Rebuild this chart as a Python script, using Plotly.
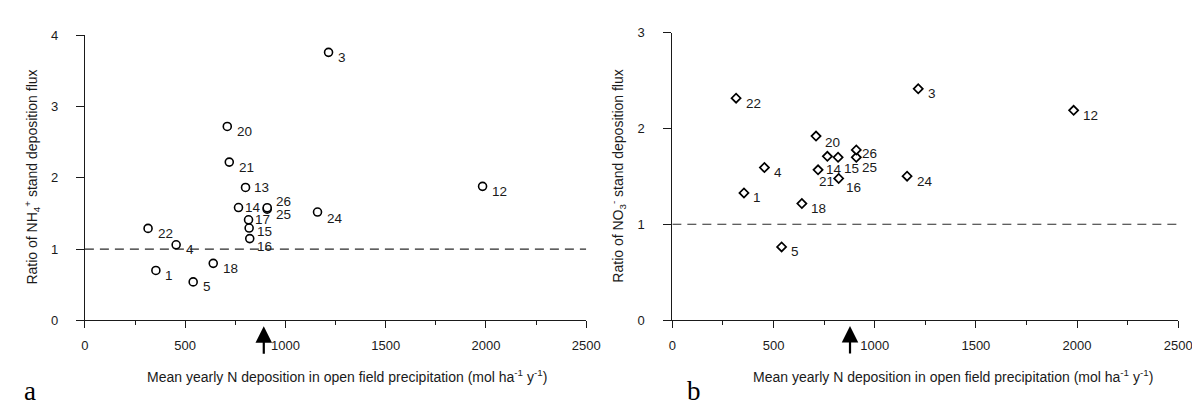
import plotly.graph_objects as go

# ---------------- data ----------------
sites = ["1", "3", "4", "5", "12", "13", "14", "15", "16", "17", "18", "20", "21", "22", "24", "25", "26"]
deposition = [354, 1215, 455, 540, 1983, 801, 766, 819, 822, 816, 640, 710, 720, 315, 1160, 909, 909]
nh4_ratio = [0.70, 3.76, 1.06, 0.54, 1.88, 1.865, 1.583, 1.295, 1.147, 1.411, 0.80, 2.72, 2.22, 1.29, 1.52, 1.56, 1.58]
no3_ratio = [1.327, 2.414, 1.592, 0.764, 2.189, None, 1.709, 1.699, 1.478, None, 1.216, 1.920, 1.568, 2.316, 1.502, 1.699, 1.776]

x_ticks = [0, 500, 1000, 1500, 2000, 2500]
x_minor_ticks = [250, 750, 1250, 1750, 2250]
nh4_ticks = [0, 1, 2, 3, 4]
no3_ticks = [0, 1, 2, 3]
x_range = [0, 2500]
reference_ratio = 1.0
arrow_dep_a = 892
arrow_dep_b = 878

x_title = "Mean yearly N deposition in open field precipitation (mol ha<sup>-1</sup> y<sup>-1</sup>)"
y_title_a = "Ratio of NH<sub>4</sub><sup>+</sup> stand deposition flux"
y_title_b = "Ratio of NO<sub>3</sub><sup>-</sup> stand deposition flux"

# ---------------- layout helpers ----------------
W, H = 1200, 409
INK = "#1a1a1a"
FONT = "Liberation Sans, Arial, sans-serif"

def px_x(p):
    return p / W

def px_y(p):
    return 1 - p / H

# label offsets (pixels): (dx to text left edge, dy downward)
default_off = (8.5, 5)
off_a = {"13": (7, 0), "14": (5, 0), "26": (8, -6), "25": (8, 5.5), "17": (5, 0),
         "15": (7, 3), "16": (6, 8), "24": (8, 6)}
off_b = {"26": (5, 4), "25": (5, 10.5), "15": (4.5, 11.3), "14": (-2, 13.3),
         "21": (0, 11.6), "16": (6, 9.3), "20": (8, 6)}

fig = go.Figure()

# reference dashed lines
for xa, ya in (("x", "y"), ("x2", "y2")):
    fig.add_trace(go.Scatter(x=x_range, y=[reference_ratio, reference_ratio], mode="lines",
                             line=dict(color="#2a2a2a", width=1.2, dash="9px,6px"),
                             xaxis=xa, yaxis=ya, hoverinfo="skip", showlegend=False))

# panel a
fig.add_trace(go.Scatter(x=deposition, y=nh4_ratio, mode="markers",
                         marker=dict(symbol="circle", size=8, color="white",
                                     line=dict(color="black", width=1.6)),
                         xaxis="x", yaxis="y", showlegend=False, text=sites))

# panel b
xb = [d for d, r in zip(deposition, no3_ratio) if r is not None]
yb = [r for r in no3_ratio if r is not None]
sb = [s for s, r in zip(sites, no3_ratio) if r is not None]
fig.add_trace(go.Scatter(x=xb, y=yb, mode="markers",
                         marker=dict(symbol="diamond", size=7, color="white",
                                     line=dict(color="black", width=1.7)),
                         xaxis="x2", yaxis="y2", showlegend=False, text=sb))

annotations = []
lab_font = dict(family=FONT, size=13.5, color=INK)
for s, d, r in zip(sites, deposition, nh4_ratio):
    dx, dy = off_a.get(s, default_off)
    annotations.append(dict(x=d, y=r, xref="x", yref="y", text=s, showarrow=False,
                            xanchor="left", yanchor="middle", xshift=dx - 1, yshift=-dy,
                            font=lab_font))
for s, d, r in zip(sb, xb, yb):
    dx, dy = off_b.get(s, default_off)
    annotations.append(dict(x=d, y=r, xref="x2", yref="y2", text=s, showarrow=False,
                            xanchor="left", yanchor="middle", xshift=dx - 1, yshift=-dy,
                            font=lab_font))

# arrows
for xv, xa, ya in ((arrow_dep_a, "x", "y"), (arrow_dep_b, "x2", "y2")):
    annotations.append(dict(x=xv, y=0, xref=xa, yref=ya, text="", showarrow=True,
                            ax=0, ay=35, axref="pixel", ayref="pixel",
                            arrowhead=2, arrowsize=1.5, arrowwidth=2.2, arrowcolor="black",
                            standoff=6))

# axis titles
title_font = dict(family=FONT, size=14, color=INK)
annotations.append(dict(x=px_x(340), y=px_y(375), xref="paper", yref="paper", text=x_title,
                        showarrow=False, xanchor="center", yanchor="middle", font=title_font))
annotations.append(dict(x=px_x(955), y=px_y(375), xref="paper", yref="paper", text=x_title,
                        showarrow=False, xanchor="center", yanchor="middle", font=title_font))
annotations.append(dict(x=px_x(20), y=px_y(168), xref="paper", yref="paper", text=y_title_a,
                        showarrow=False, xanchor="center", yanchor="middle", textangle=-90,
                        font=title_font))
annotations.append(dict(x=px_x(615), y=px_y(167), xref="paper", yref="paper", text=y_title_b,
                        showarrow=False, xanchor="center", yanchor="middle", textangle=-90,
                        font=title_font))

# panel letters
letter_font = dict(family="Liberation Serif, Times New Roman, serif", size=27, color="black")
annotations.append(dict(x=px_x(10), y=px_y(408), xref="paper", yref="paper", text="a",
                        showarrow=False, xanchor="left", yanchor="bottom", font=letter_font))
annotations.append(dict(x=px_x(683), y=px_y(408), xref="paper", yref="paper", text="b",
                        showarrow=False, xanchor="left", yanchor="bottom", font=letter_font))

tick_font = dict(family=FONT, size=13, color=INK)

def xaxis_cfg(dom, anchor):
    return dict(domain=dom, anchor=anchor, range=x_range, tickmode="array", tickvals=x_ticks,
                ticks="outside", ticklen=7, tickwidth=1, tickcolor=INK,
                showline=True, linecolor=INK, linewidth=1, showgrid=False, zeroline=False,
                tickfont=tick_font, ticklabelstandoff=6,
                minor=dict(tickmode="array", tickvals=x_minor_ticks, ticks="outside",
                           ticklen=4, tickwidth=1, tickcolor=INK, showgrid=False))

def yaxis_cfg(dom, anchor, rng, ticks, standoff):
    return dict(domain=dom, anchor=anchor, range=rng, tickmode="array", tickvals=ticks,
                ticks="outside", ticklen=8, tickwidth=1, tickcolor=INK,
                showline=True, linecolor=INK, linewidth=1, showgrid=False, zeroline=False,
                tickfont=tick_font, ticklabelstandoff=standoff)

fig.update_layout(
    width=W, height=H,
    margin=dict(l=0, r=0, t=0, b=0),
    paper_bgcolor="white", plot_bgcolor="white",
    xaxis=xaxis_cfg([px_x(74), px_x(583)], "y"),
    yaxis=yaxis_cfg([px_y(317), px_y(21)], "x", [0, max(nh4_ticks)], nh4_ticks, 15),
    xaxis2=xaxis_cfg([px_x(670.4), px_x(1184)], "y2"),
    yaxis2=yaxis_cfg([px_y(316.7), px_y(18.3)], "x2", [0, max(no3_ticks)], no3_ticks, 16),
    annotations=annotations,
    font=dict(family=FONT, color=INK),
    hovermode=False,
)

fig.write_html("out.html")
